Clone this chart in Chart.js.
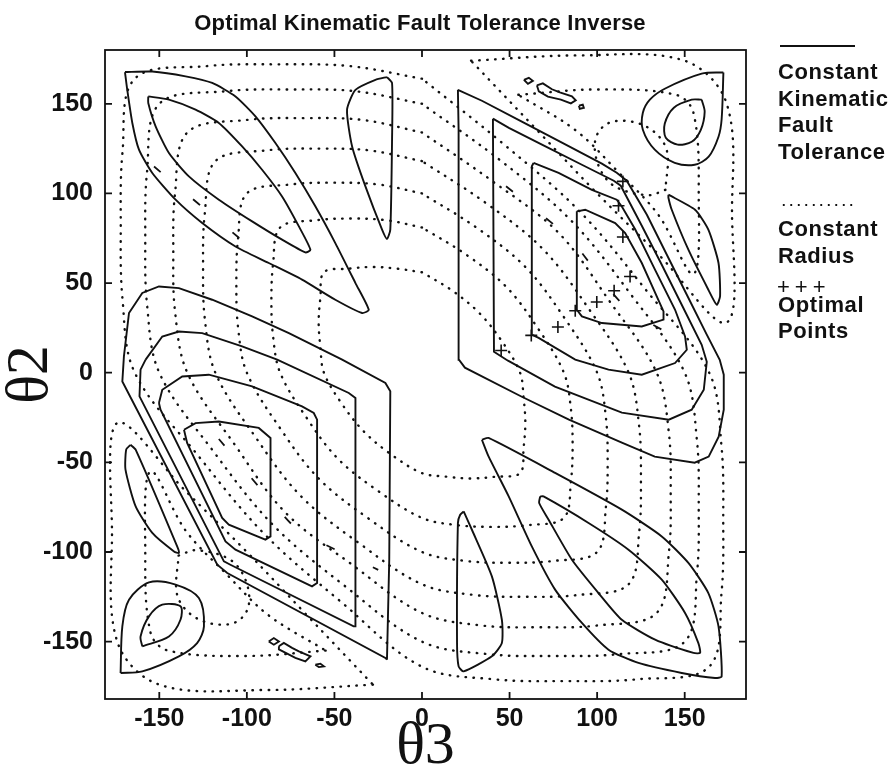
<!DOCTYPE html>
<html>
<head>
<meta charset="utf-8">
<script src="https://cdn.jsdelivr.net/npm/chart.js@4.4.1/dist/chart.umd.min.js"></script>
<style>
  body { margin: 0; background: #fff; }
  #wrap { position: relative; width: 895px; height: 777px; }
  #chart { position: absolute; left: 0; top: 0; }
  .txt { position: absolute; font-family: "Liberation Sans", Arial, sans-serif; font-weight: bold; color: #111; white-space: pre; }
</style>
</head>
<body>
<div id="wrap">
  <canvas id="chart" width="895" height="777"></canvas>
  <div class="txt" style="left:0;width:840px;text-align:center;top:12px;font-size:22px;line-height:22px;letter-spacing:0.2px;">Optimal Kinematic Fault Tolerance Inverse</div>
  <div style="position:absolute;left:780px;top:45px;width:75px;height:2px;background:#111;"></div>
  <div class="txt" style="left:778px;top:59px;font-size:22px;line-height:26.7px;letter-spacing:0.6px;">Constant
Kinematic
Fault
Tolerance</div>
  <div style="position:absolute;left:780px;top:203px;width:75px;height:4px;background-image:radial-gradient(circle,#111 1px,transparent 1.4px);background-size:7.5px 4px;"></div>
  <div class="txt" style="left:778px;top:215px;font-size:22px;line-height:27px;letter-spacing:0.6px;">Constant
Radius</div>
  <div class="txt" style="left:777px;top:276px;font-size:22px;line-height:22px;letter-spacing:5px;font-weight:normal;">+++</div>
  <div class="txt" style="left:778px;top:292px;font-size:22px;line-height:26px;letter-spacing:0.6px;">Optimal
Points</div>
</div>
<script>
const xTicks = [-150, -100, -50, 0, 50, 100, 150];
const yTicks = [-150, -100, -50, 0, 50, 100, 150];

// constant kinematic fault tolerance contours, [theta3, theta2]
const kftUpperLeftOuter = [[-169.6,167.7],[-154,168],[-135,165.3],[-119.8,161.6],[-106.5,154.1],[-95.1,143],[-83.7,128.1],[-72.3,111.4],[-60.9,92.8],[-49.5,72.3],[-38,50],[-30.4,35.1],[-34.2,33.3],[-49.5,40.7],[-68.5,51.9],[-87.5,61.2],[-106.5,70.4],[-125.5,83.5],[-140.7,96.5],[-154,111.4],[-161.6,124.4],[-165.4,139.3],[-168.3,157.8]];
const kftUpperLeftInner = [[-156.3,154.1],[-144.5,152.3],[-129.3,146.7],[-116,139.3],[-102.7,126.2],[-91.3,113.2],[-79.9,98.3],[-70.3,81.6],[-63.7,68.6],[-66.6,67.1],[-79.9,74.2],[-97,84.4],[-116,96.5],[-133.1,109.5],[-144.5,122.5],[-152.1,137.4],[-156.3,150.4]];
const kftUpperMid = [[-20,164.9],[-17.1,161.6],[-17.1,130],[-18.1,79.8],[-20,74.6],[-22.8,79.8],[-32.3,103.9],[-39.9,126.2],[-42.8,146.7],[-38,157.8],[-26.6,163.4]];

const kftLowerLeft1 = [[-20,-160.1],[-18.7,-104.3],[-18.1,-10.4],[-20.9,-5.7],[-45.6,7.3],[-76,22.1],[-97,31.4],[-119.8,40.7],[-138.8,47.2],[-150.2,48.1],[-159.7,44.5],[-167.3,33.3],[-170.2,9.1],[-171.1,-4.9],[-116.9,-107.1],[-111.2,-111.7],[-20.9,-159.1]];
const kftLowerLeft2 = [[-157.8,7.3],[-160.7,1.7],[-161.3,-13.2],[-113.1,-105.2],[-109.4,-107.1],[-39,-141.5],[-38,-141.5],[-38,-14.1],[-41.8,-11.3],[-82.7,7.3],[-102.7,14.7],[-125.5,22.1],[-138.8,23],[-148.3,20.2]];
const kftLowerLeft3 = [[-150.2,-16.9],[-148.3,-9.5],[-136.9,-2.1],[-121.7,-1.1],[-97,-7.6],[-68.5,-18.8],[-61.8,-22.5],[-59.9,-26.2],[-59.9,-117.3],[-62.8,-119.2],[-106.5,-98.7],[-112.2,-94.1],[-149.3,-20.6]];
const kftLowerLeft4 = [[-135.9,-31.8],[-129.3,-28.1],[-116,-27.2],[-93.2,-30.8],[-86.5,-36.4],[-86.5,-91.3],[-89.4,-93.1],[-110.3,-84.8],[-114.1,-81],[-134.1,-39.2]];
const kftLeftSliver = [[-166.4,-40.2],[-163.5,-42.9],[-139.8,-96.9],[-138.8,-100.6],[-141.6,-99.7],[-154,-89.4],[-163.5,-74.6],[-169.3,-54.1],[-168.9,-42.9]];
const kftCornerLL1 = [[-172.1,-167.5],[-171.1,-141.5],[-167.3,-126.6],[-155.9,-117],[-140.7,-118.2],[-127.4,-125.7],[-124.5,-141.5],[-128.4,-150.8],[-138.8,-158.2],[-159.7,-166.6]];
const kftCornerLL2 = [[-159.7,-152.6],[-160.7,-147.1],[-155.9,-135.9],[-148.3,-129.4],[-137.9,-130.3],[-137.9,-137.8],[-144.5,-147.1]];
const kftBlobLL1 = [[-87.5,-149.9],[-84.6,-148],[-81.7,-149.9],[-84.6,-151.7]];
const kftBlobLL2 = [[-81.7,-152.6],[-78.9,-150.7],[-74.2,-153.5],[-70.3,-155.4],[-63.7,-158.2],[-66.6,-161],[-72.3,-159.1],[-81.7,-154.3]];
const kftBlobLL3 = [[-60.9,-162.9],[-58,-162.3],[-56,-163.8],[-58.9,-164.2]];

const kftLowerRightOuter = [[34.2,-37.4],[38,-36.4],[76,-55.9],[114.1,-76.4],[136.9,-91.3],[152.1,-106.1],[163.5,-122.9],[169.3,-141.5],[171.1,-169.4],[167.3,-170.3],[148.3,-167.5],[123.6,-161.9],[106.5,-154.5],[91.3,-139.6],[76,-121],[62.7,-96.9],[49.5,-69],[38,-46.7]];
const kftLowerRightInner = [[67.5,-69],[69.4,-69],[95.1,-83.8],[117.9,-98.7],[136.9,-115.4],[150.2,-134],[157.8,-150.8],[158.8,-156.3],[155,-156.3],[133.1,-148.9],[114.1,-137.8],[100.8,-122.9],[85.6,-104.3],[72.3,-82],[66.9,-72.7]];
const kftLowerMid = [[23.8,-77.4],[28.5,-87.6],[39.9,-113.6],[45.6,-137.8],[45.6,-150.8],[39.9,-158.2],[23.8,-166.6],[20.9,-163.8],[20,-150.8],[20.5,-83.8],[21.8,-79.2]];

const kftUpperRight1 = [[20.5,157.8],[34.2,151.7],[57,140],[79.9,128.3],[102.7,116.6],[111.2,111.5],[116.9,107.1],[128.4,88.1],[139.8,65.8],[151.2,43.5],[162.6,21.2],[170,7.2],[172.3,-1.1],[172.3,-20.6],[169.4,-35.7],[163.7,-46.8],[155.7,-50.2],[132.9,-46.8],[114.1,-39],[83.9,-26.2],[57,-13.4],[24.5,2.8],[21.1,7.2],[20.9,135.5]];
const kftUpperRight2 = [[40.5,141.7],[49.6,136.6],[68.5,127.2],[91.3,116],[109.5,107.1],[113.5,104.3],[125.5,82],[136.9,60.2],[148.3,37.9],[159.7,15.6],[162.6,6.1],[160.9,-9.5],[154,-20.6],[140.9,-26.2],[114.1,-22.3],[75.9,-7.8],[49.1,6.7],[41.1,11.7]];
const kftUpperRight3 = [[63.7,117],[78,111.4],[97,102],[111.2,96.5],[114.1,92.7],[121.7,80],[133.1,57.4],[144.5,35.1],[150.2,20.2],[151.2,12.8],[144.5,5.4],[125.5,-1.1],[106.5,1.7],[87.5,7.3],[66.6,19.4],[62.7,21.2],[62.7,115.1]];
const kftUpperRight4 = [[88.4,90],[93.2,90.9],[110.3,83.5],[116,77.9],[125.5,61.2],[137.9,34.2],[137.9,29.6],[125.5,25.8],[102.7,27.7],[91.3,31.4],[88.4,35.1]];
const kftRightSliver = [[140.7,99.3],[155.9,90.9],[163.5,79.8],[169.3,61.2],[170.2,42.6],[168.3,37.9],[163.5,46.3],[152.1,68.6],[142.6,90.9],[140.7,97.6]];
const kftCornerUR1 = [[172.1,167.5],[171.1,141.5],[169.3,131.6],[163.7,120.5],[155.7,116],[144.3,117.1],[132.9,124.4],[126.1,135.5],[126.1,145],[130.1,152.3],[138.6,158.4],[159.7,166.8]];
const kftCornerUR2 = [[159.7,152.3],[161.4,145.6],[159.2,135.5],[154,128.8],[146,127.2],[139.2,131],[138.6,138.8],[143.8,147.8],[154,152.3]];
const kftBlobUR1 = [[58.2,163.4],[61,164.5],[63.3,162.8],[60.5,161.1]];
const kftBlobUR2 = [[65.6,160.3],[69,161.4],[74.2,158.1],[78.7,156.4],[85.6,154.2],[87.8,151.9],[85,150.2],[79.3,152.3],[71.9,154],[66.7,156.9]];
const kftBlobUR3 = [[89.6,148.9],[91.8,149.5],[92.4,147.8],[90.1,147.2]];

// constant radius contours
const radius1 = [[0,56],[-14,58],[-28,59],[-42,58],[-56,56],[-58,42],[-59,28],[-58,14],[-56,0],[-46,-17],[-33,-33],[-17,-46],[0,-56],[14,-58],[28,-59],[42,-58],[56,-56],[58,-42],[59,-28],[58,-14],[56,0],[46,17],[33,33],[17,46]];
const radius2 = [[0,81],[-20,85],[-40,86],[-61,85],[-81,81],[-85,61],[-86,40],[-85,20],[-81,0],[-66,-25],[-48,-48],[-25,-66],[0,-81],[20,-85],[40,-86],[61,-85],[81,-81],[85,-61],[86,-40],[85,-20],[81,0],[66,25],[48,48],[25,66]];
const radius3 = [[0,100],[-25,105],[-50,106],[-75,105],[-100,100],[-105,75],[-106,50],[-105,25],[-100,0],[-81,-31],[-59,-59],[-31,-81],[0,-100],[25,-105],[50,-106],[75,-105],[100,-100],[105,-75],[106,-50],[105,-25],[100,0],[81,31],[59,59],[31,81]];
const radius4 = [[0,118],[-30,124],[-59,125],[-89,124],[-118,118],[-124,89],[-125,59],[-124,30],[-118,0],[-95,-36],[-69,-69],[-36,-95],[0,-118],[30,-124],[59,-125],[89,-124],[118,-118],[124,-89],[125,-59],[124,-30],[118,0],[95,36],[69,69],[36,95]];
const radius5 = [[0,134],[-34,141],[-67,142],[-100,141],[-134,134],[-141,100],[-142,67],[-141,34],[-134,0],[-107,-40],[-78,-78],[-40,-107],[0,-134],[34,-141],[67,-142],[100,-141],[134,-134],[141,-100],[142,-67],[141,-34],[134,0],[107,40],[78,78],[40,107]];
const radius6 = [[0,150],[-38,157],[-75,158],[-112,157],[-150,150],[-157,112],[-158,75],[-157,38],[-150,0],[-119,-44],[-85,-85],[-44,-119],[0,-150],[38,-157],[75,-158],[112,-157],[150,-150],[157,-112],[158,-75],[157,-38],[150,0],[119,44],[85,85],[44,119]];
const radius7 = [[0,164],[-41,171],[-82,172],[-123,171],[-164,164],[-171,123],[-172,82],[-171,41],[-164,0],[-128,-46],[-90,-90],[-46,-128],[0,-164],[41,-171],[82,-172],[123,-171],[164,-164],[171,-123],[172,-82],[171,-41],[164,0],[128,46],[90,90],[46,128]];
const radiusUR0 = [[139,102],[129,99],[110,104],[101,115],[99,130],[106,139],[120,140],[133,134],[140,123]];
const radiusUR1 = [[55,155],[100,158],[145,155],[155,145],[158,100],[155,55],[135,88],[112,112],[88,135]];
const radiusUR2 = [[28,174],[90,177],[150,174],[174,150],[177,90],[174,28],[135,66],[100,100],[66,135]];
const radiusLL0 = [[-139,-102],[-129,-99],[-110,-104],[-101,-115],[-99,-130],[-106,-139],[-120,-140],[-133,-134],[-140,-123]];
const radiusLL1 = [[-55,-155],[-100,-158],[-145,-155],[-155,-145],[-158,-100],[-155,-55],[-135,-88],[-112,-112],[-88,-135]];
const radiusLL2 = [[-28,-174],[-90,-177],[-150,-174],[-174,-150],[-177,-90],[-174,-28],[-135,-66],[-100,-100],[-66,-135]];

// optimal points and their dash-dot paths
const optimalPoints = [[45.2,12.4],[62.4,20.8],[77.6,25.5],[87.5,34.6],[99.8,39.4],[109.7,45.7],[118.8,53.7],[114.7,75.7],[112.2,93.1],[114.7,106.7]];
const optLineUR = [[48,104],[76,82],[87,72],[116,37],[150,17]];
const optLineLL = [[-116,-37],[-84,-74],[-70,-88],[-25,-110]];
const optLineUL = [[-153,115],[-103,74]];

const pts = a => a.map(([x, y]) => ({x, y}));
const loop = a => pts([...a, a[0]]);
const ink = '#111';

function solid(a, tension) {
	return { data: loop(a), showLine: true, borderColor: ink, borderWidth: 1.9, pointRadius: 0, tension: tension || 0 };
}
function dotted(a) {
	return { data: loop(a), showLine: true, borderColor: ink, borderWidth: 2.4, borderDash: [0.5, 7.5], borderCapStyle: 'round', pointRadius: 0, tension: 0.35 };
}
function dashDot(a) {
	return { data: pts(a), showLine: true, borderColor: ink, borderWidth: 1.8, borderDash: [9, 42], pointRadius: 0, tension: 0.3 };
}

const datasets = [
	dotted(radius1), dotted(radius2), dotted(radius3), dotted(radius4), dotted(radius5), dotted(radius6), dotted(radius7),
	dotted(radiusUR0), dotted(radiusUR1), dotted(radiusUR2), dotted(radiusLL0), dotted(radiusLL1), dotted(radiusLL2),
	solid(kftUpperLeftOuter, 0.2), solid(kftUpperLeftInner, 0.2), solid(kftUpperMid, 0.2),
	solid(kftLowerLeft1), solid(kftLowerLeft2), solid(kftLowerLeft3), solid(kftLowerLeft4),
	solid(kftLeftSliver, 0.2), solid(kftCornerLL1, 0.3), solid(kftCornerLL2, 0.3),
	solid(kftBlobLL1), solid(kftBlobLL2), solid(kftBlobLL3),
	solid(kftLowerRightOuter, 0.2), solid(kftLowerRightInner, 0.2), solid(kftLowerMid, 0.2),
	solid(kftUpperRight1), solid(kftUpperRight2), solid(kftUpperRight3), solid(kftUpperRight4),
	solid(kftRightSliver, 0.2), solid(kftCornerUR1, 0.3), solid(kftCornerUR2, 0.3),
	solid(kftBlobUR1), solid(kftBlobUR2), solid(kftBlobUR3),
	dashDot(optLineUR), dashDot(optLineLL), dashDot(optLineUL),
	{ data: pts(optimalPoints), showLine: false, pointStyle: 'cross', pointRadius: 6, borderWidth: 1.6, borderColor: ink, backgroundColor: ink }
];

// box round the plot with inward ticks on all four sides
const frame = {
	id: 'frame',
	afterDraw(chart) {
		const { ctx, chartArea: a, scales: { x, y } } = chart;
		ctx.save();
		ctx.strokeStyle = ink;
		ctx.lineWidth = 1.8;
		ctx.strokeRect(a.left, a.top, a.right - a.left, a.bottom - a.top);
		ctx.beginPath();
		x.ticks.forEach(t => {
			const p = x.getPixelForValue(t.value);
			ctx.moveTo(p, a.bottom); ctx.lineTo(p, a.bottom - 7);
			ctx.moveTo(p, a.top); ctx.lineTo(p, a.top + 7);
		});
		y.ticks.forEach(t => {
			const p = y.getPixelForValue(t.value);
			ctx.moveTo(a.left, p); ctx.lineTo(a.left + 7, p);
			ctx.moveTo(a.right, p); ctx.lineTo(a.right - 7, p);
		});
		ctx.stroke();
		ctx.restore();
	}
};

const tickFont = { family: '"Liberation Sans", Arial, sans-serif', size: 25, weight: 'bold' };
const titleFont = { family: '"Liberation Serif", "Times New Roman", serif', size: 60, lineHeight: 1 };

new Chart(document.getElementById('chart'), {
	type: 'scatter',
	data: { datasets },
	options: {
		responsive: false,
		animation: false,
		devicePixelRatio: 1,
		layout: { padding: { top: 50, right: 149, bottom: 0, left: 0 } },
		plugins: { legend: { display: false }, tooltip: { enabled: false } },
		scales: {
			x: {
				min: -181, max: 185,
				afterBuildTicks: s => { s.ticks = xTicks.map(v => ({ value: v })); },
				afterFit: s => { s.height = 78; },
				grid: { display: false, drawTicks: false },
				border: { display: false },
				ticks: { font: tickFont, color: ink, padding: 5, maxRotation: 0 },
				title: { display: true, text: 'θ3', font: titleFont, color: ink, padding: 0 }
			},
			y: {
				min: -182, max: 180,
				afterBuildTicks: s => { s.ticks = yTicks.map(v => ({ value: v })); },
				afterFit: s => { s.width = 105; },
				grid: { display: false, drawTicks: false },
				border: { display: false },
				ticks: { font: tickFont, color: ink, padding: 12 },
				title: { display: true, text: 'θ2', font: titleFont, color: ink, padding: 1 }
			}
		}
	},
	plugins: [frame]
});
</script>
</body>
</html>
